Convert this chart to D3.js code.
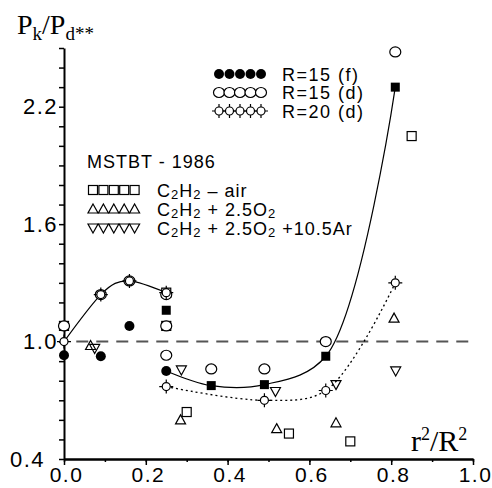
<!DOCTYPE html>
<html>
<head>
<meta charset="utf-8">
<script src="https://cdnjs.cloudflare.com/ajax/libs/d3/7.8.5/d3.min.js"></script>
<style>
body { margin: 0; background: #fff; }
</style>
</head>
<body>
<div id="chart"></div>
<script>
// R=15 (f) - filled markers
var r15fRoundX = [0.0, 0.09, 0.16, 0.25];
var r15fRoundY = [0.93, 0.925, 1.08, 0.85];
var r15fSquareX = [0.25, 0.36, 0.49, 0.64, 0.81];
var r15fSquareY = [1.16, 0.775, 0.78, 0.925, 2.30];
// R=15 (d)
var r15dX = [0.0, 0.09, 0.16, 0.25, 0.25, 0.25, 0.36, 0.49, 0.64, 0.81];
var r15dY = [1.08, 1.24, 1.31, 1.24, 1.08, 0.93, 0.86, 0.86, 1.00, 2.48];
// R=20 (d)
var r20dX = [0.0, 0.09, 0.16, 0.25, 0.25, 0.49, 0.64, 0.81];
var r20dY = [1.0, 1.24, 1.31, 1.25, 0.77, 0.70, 0.75, 1.30];
// MSTBT - 1986
var airX = [0.0, 0.25, 0.25, 0.30, 0.55, 0.70, 0.85];
var airY = [1.08, 1.25, 1.08, 0.64, 0.53, 0.49, 2.05];
var o2X = [0.065, 0.285, 0.52, 0.665, 0.807];
var o2Y = [0.98, 0.60, 0.555, 0.585, 1.12];
var arX = [0.075, 0.287, 0.517, 0.665, 0.811];
var arY = [0.965, 0.855, 0.745, 0.78, 0.85];

// fitted curves
var fitAX = [0.0, 0.09, 0.16, 0.25];
var fitAY = [1.0, 1.24, 1.31, 1.25];
var fitBX = [0.25, 0.36, 0.49, 0.64, 0.81];
var fitBY = [0.85, 0.775, 0.78, 0.925, 2.30];
var fitCX = [0.25, 0.49, 0.64, 0.81];
var fitCY = [0.77, 0.70, 0.75, 1.30];

var refLevel = 1.0;

var yTicks = [0.4, 0.5, 0.6, 0.7, 0.8, 0.9, 1.0, 1.1, 1.2, 1.3, 1.4, 1.5, 1.6, 1.7, 1.8, 1.9, 2.0, 2.1, 2.2, 2.3, 2.4, 2.5];
var yLabels = [0.4, 1.0, 1.6, 2.2];
var xTicks = [0.0, 0.1, 0.2, 0.3, 0.4, 0.5, 0.6, 0.7, 0.8, 0.9, 1.0];
var xLabels = [0.0, 0.2, 0.4, 0.6, 0.8, 1.0];

var topLegendLabels = ["R=15 (f)", "R=15 (d)", "R=20 (d)"];
var mstbtTitle = "MSTBT - 1986";
var mstbtLabels = ["C2H2 \u2013 air", "C2H2 + 2.5O2", "C2H2 + 2.5O2 +10.5Ar"];

var width = 492, height = 488;
var sans = "'Liberation Sans', Arial, sans-serif";
var serif = "'Liberation Serif', 'Times New Roman', serif";

var svg = d3.select("#chart")
    .append("svg")
    .attr("width", width)
    .attr("height", height);

var x = d3.scaleLinear().domain([0, 1]).range([64, 473]);
var y = d3.scaleLinear().domain([0.4, 2.5]).range([459, 48]);

function zip(xs, ys) {
    return xs.map(function (v, i) { return [v, ys[i]]; });
}

function drawMarker(g, type, cx, cy) {
    switch (type) {
        case "fcircle":
            g.append("circle").attr("cx", cx).attr("cy", cy).attr("r", 5)
                .attr("fill", "#000");
            break;
        case "fsquare":
            g.append("rect").attr("x", cx - 4.5).attr("y", cy - 4.5)
                .attr("width", 9).attr("height", 9).attr("fill", "#000");
            break;
        case "ocircle":
            g.append("ellipse").attr("cx", cx).attr("cy", cy).attr("rx", 5.5).attr("ry", 5)
                .attr("fill", "#fff").attr("stroke", "#000").attr("stroke-width", 1.2);
            break;
        case "star":
            g.append("path")
                .attr("d", "M" + cx + "," + (cy - 4) + "V" + (cy - 7) +
                    "M" + cx + "," + (cy + 4) + "V" + (cy + 7) +
                    "M" + (cx - 4) + "," + cy + "H" + (cx - 7) +
                    "M" + (cx + 4) + "," + cy + "H" + (cx + 7))
                .attr("stroke", "#000").attr("stroke-width", 1.2);
            g.append("circle").attr("cx", cx).attr("cy", cy).attr("r", 4)
                .attr("fill", "#fff").attr("stroke", "#000").attr("stroke-width", 1.2);
            break;
        case "osquare":
            g.append("rect").attr("x", cx - 4.5).attr("y", cy - 4.5)
                .attr("width", 9).attr("height", 9)
                .attr("fill", "none").attr("stroke", "#000").attr("stroke-width", 1.2);
            break;
        case "tri":
            g.append("path")
                .attr("d", "M" + cx + "," + (cy - 5) + "L" + (cx + 5) + "," + (cy + 4) +
                    "L" + (cx - 5) + "," + (cy + 4) + "Z")
                .attr("fill", "none").attr("stroke", "#000").attr("stroke-width", 1.2);
            break;
        case "itri":
            g.append("path")
                .attr("d", "M" + cx + "," + (cy + 5) + "L" + (cx + 5) + "," + (cy - 4) +
                    "L" + (cx - 5) + "," + (cy - 4) + "Z")
                .attr("fill", "none").attr("stroke", "#000").attr("stroke-width", 1.2);
            break;
        default:
            break;
    }
}

function drawSeries(xs, ys, type) {
    var g = svg.append("g").attr("class", "series-" + type);
    zip(xs, ys).forEach(function (d) {
        drawMarker(g, type, x(d[0]), y(d[1]));
    });
}

// reference line at 1.0
svg.append("line")
    .attr("x1", x(0.03)).attr("x2", x(1.0))
    .attr("y1", y(refLevel)).attr("y2", y(refLevel))
    .attr("stroke", "#555")
    .attr("stroke-width", 2)
    .attr("stroke-dasharray", "12,8");

// axes
var yAxis = d3.axisLeft(y)
    .tickValues(yTicks)
    .tickSize(5)
    .tickSizeOuter(0)
    .tickPadding(1)
    .tickFormat(function (d) {
        return yLabels.some(function (v) { return Math.abs(v - d) < 1e-6; }) ? d3.format(".1f")(d) : "";
    });

var gy = svg.append("g")
    .attr("transform", "translate(" + x(0) + ",0)")
    .call(yAxis);

gy.selectAll("text")
    .attr("font-family", sans)
    .attr("font-size", 22)
    .attr("letter-spacing", 1.5)
    .attr("fill", "#000")
    .filter(function (d) { return Math.abs(d - 0.4) < 1e-6; })
    .attr("dx", -13);

var xAxisMinor = d3.axisBottom(x)
    .tickValues(xTicks)
    .tickSize(3)
    .tickSizeOuter(0)
    .tickFormat("");

var xAxis = d3.axisBottom(x)
    .tickValues(xLabels)
    .tickSize(6)
    .tickSizeOuter(0)
    .tickPadding(2)
    .tickFormat(d3.format(".1f"));

svg.append("g")
    .attr("transform", "translate(0," + y(0.4) + ")")
    .call(xAxisMinor);

var gx = svg.append("g")
    .attr("transform", "translate(0," + y(0.4) + ")")
    .call(xAxis);

gx.selectAll("text")
    .attr("font-family", sans)
    .attr("font-size", 21)
    .attr("letter-spacing", 1.5)
    .attr("dx", 2)
    .attr("fill", "#000");

svg.selectAll(".domain").attr("stroke", "#000").attr("stroke-width", 2);
svg.selectAll(".tick line").attr("stroke", "#000").attr("stroke-width", 1.5);

// fitted curves
var lineNatural = d3.line()
    .x(function (d) { return x(d[0]); })
    .y(function (d) { return y(d[1]); })
    .curve(d3.curveNatural);

var lineSmooth = d3.line()
    .x(function (d) { return x(d[0]); })
    .y(function (d) { return y(d[1]); })
    .curve(d3.curveCatmullRom.alpha(0.5));

svg.append("path")
    .datum(zip(fitAX, fitAY))
    .attr("d", lineNatural)
    .attr("fill", "none").attr("stroke", "#000").attr("stroke-width", 1.2);

svg.append("path")
    .datum(zip(fitBX, fitBY))
    .attr("d", lineSmooth)
    .attr("fill", "none").attr("stroke", "#000").attr("stroke-width", 1.2);

svg.append("path")
    .datum(zip(fitCX, fitCY))
    .attr("d", lineSmooth)
    .attr("fill", "none").attr("stroke", "#000").attr("stroke-width", 1.3)
    .attr("stroke-dasharray", "2,3");

// markers
drawSeries(airX, airY, "osquare");
drawSeries(o2X, o2Y, "tri");
drawSeries(arX, arY, "itri");
drawSeries(r15dX, r15dY, "ocircle");
drawSeries(r20dX, r20dY, "star");
drawSeries(r15fRoundX, r15fRoundY, "fcircle");
drawSeries(r15fSquareX, r15fSquareY, "fsquare");

// axis titles
var ty = svg.append("text")
    .attr("x", 17).attr("y", 34)
    .attr("font-family", serif)
    .attr("font-size", 28)
    .attr("fill", "#000");
ty.append("tspan").text("P");
ty.append("tspan").attr("font-size", 19).attr("dy", 6).text("k");
ty.append("tspan").attr("dy", -6).text("/P");
ty.append("tspan").attr("font-size", 19).attr("dy", 6).text("d**");

var tx = svg.append("text")
    .attr("x", 411).attr("y", 451)
    .attr("font-family", serif)
    .attr("font-size", 30)
    .attr("fill", "#000");
tx.append("tspan").text("r");
tx.append("tspan").attr("font-size", 18).attr("dy", -11).text("2");
tx.append("tspan").attr("dy", 11).text("/R");
tx.append("tspan").attr("font-size", 18).attr("dy", -11).text("2");

// top legend
var topTypes = ["fcircle", "ocircle", "star"];
var legTop = svg.append("g").attr("class", "legend-top");
topLegendLabels.forEach(function (label, i) {
    var cy = 74 + i * 18.5;
    for (var k = 0; k < 5; k++) {
        drawMarker(legTop, topTypes[i], 219 + k * 10.5, cy);
    }
    legTop.append("text")
        .attr("x", 282).attr("y", cy + 6.5)
        .attr("font-family", sans)
        .attr("font-size", 18)
        .attr("letter-spacing", 1.5)
        .text(label);
});

// MSTBT legend
function chemText(g, tx, ty, label) {
    var t = g.append("text")
        .attr("x", tx).attr("y", ty)
        .attr("font-family", sans)
        .attr("font-size", 18)
        .attr("letter-spacing", 1);
    var parts = label.split(/(?<=[A-Za-z])(\d)/);
    var shifted = false;
    parts.forEach(function (p, i) {
        if (p === "") return;
        var isSub = i % 2 === 1;
        var ts = t.append("tspan").text(p);
        if (isSub && !shifted) { ts.attr("font-size", 13).attr("dy", 2); shifted = true; }
        else if (isSub) { ts.attr("font-size", 13); }
        else if (shifted) { ts.attr("dy", -2); shifted = false; }
    });
}

var legM = svg.append("g").attr("class", "legend-mstbt");
legM.append("text")
    .attr("x", 87).attr("y", 168)
    .attr("font-family", sans)
    .attr("font-size", 18)
    .attr("letter-spacing", 1)
    .text(mstbtTitle);

var mTypes = ["osquare", "tri", "itri"];
mstbtLabels.forEach(function (label, i) {
    var cy = 190 + i * 19;
    for (var k = 0; k < 5; k++) {
        drawMarker(legM, mTypes[i], 93 + k * 10.4, cy);
    }
    chemText(legM, 157, cy + 6.5, label);
});
</script>
</body>
</html>
